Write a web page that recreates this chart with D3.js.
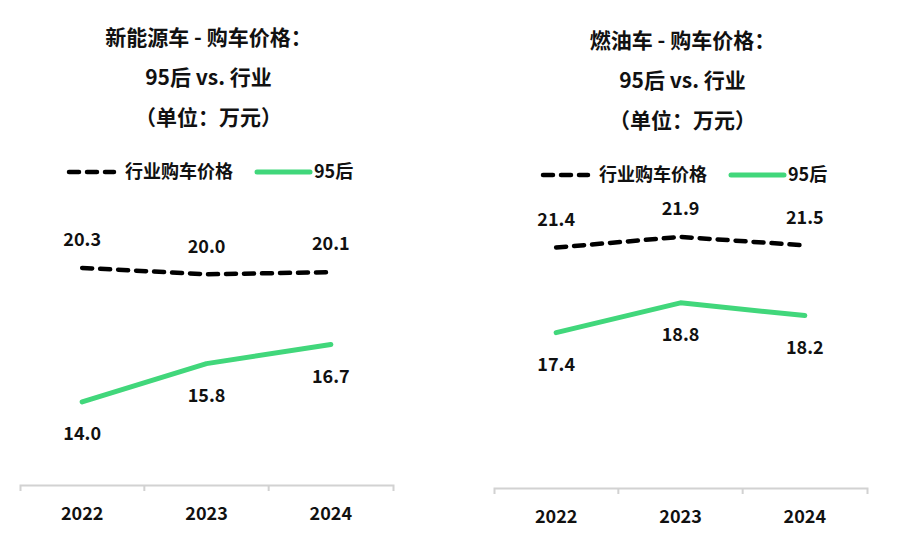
<!DOCTYPE html>
<html><head><meta charset="utf-8">
<script src="https://cdn.jsdelivr.net/npm/d3@7/dist/d3.min.js"></script>
<style>
html,body{margin:0;padding:0;background:#fff;}
text{font-family:"Noto Sans CJK SC","Noto Sans",sans-serif;font-weight:700;fill:#111;}
</style></head>
<body><svg id="c" width="918" height="538"></svg>
<script>
const years = ["2022","2023","2024"];
const nevIndustry = [20.3, 20.0, 20.1];
const nev95 = [14.0, 15.8, 16.7];
const iceIndustry = [21.4, 21.9, 21.5];
const ice95 = [17.4, 18.8, 18.2];
const titlesNev = ["新能源车 - 购车价格：", "95后 vs. 行业", "（单位：万元）"];
const titlesIce = ["燃油车 - 购车价格：", "95后 vs. 行业", "（单位：万元）"];
const legendLabels = ["行业购车价格", "95后"];

const GREEN = "#41d77b";
const svg = d3.select("#c");

function panel(cfg){
  const g = svg.append("g").attr("transform", `translate(${cfg.dx},${cfg.dy})`);
  const x = d3.scaleBand().domain(years).range([cfg.x0, cfg.x0 + 373]).padding(0);
  const y = d3.scaleLinear().domain([10, 25]).range([487, 487 - 15*21.27]);
  const cx = d => x(d) + x.bandwidth()/2;
  const axisY = 485;
  const midX = (cfg.x0 + cfg.x0 + 373)/2 + 2;

  // titles
  g.selectAll("text.title").data(cfg.titles).join("text")
    .attr("class","title")
    .attr("x", midX).attr("y", (d,i) => 38 + i*40)
    .attr("dy","0.35em").attr("text-anchor","middle")
    .style("font-size","21px").text(d => d);

  // legend
  const ly = 172;
  const lx = cfg.x0 + 47;
  g.append("line").attr("x1", lx + 2).attr("x2", lx + 47).attr("y1", ly).attr("y2", ly)
    .attr("stroke","#000").attr("stroke-width",4.5).attr("stroke-linecap","round")
    .attr("stroke-dasharray","10,8");
  g.append("text").attr("x", lx + 58).attr("y", ly).attr("dy","0.35em")
    .style("font-size","18px").text(legendLabels[0]);
  g.append("line").attr("x1", lx + 190).attr("x2", lx + 243).attr("y1", ly).attr("y2", ly)
    .attr("stroke",GREEN).attr("stroke-width",5).attr("stroke-linecap","round");
  g.append("text").attr("x", lx + 247).attr("y", ly).attr("dy","0.35em")
    .style("font-size","18px").text(legendLabels[1]);

  // axis
  const axis = d3.axisBottom(x).tickSize(0).tickSizeOuter(6).tickPadding(22);
  const ag = g.append("g").attr("transform", `translate(0,${axisY})`).call(axis);
  ag.select(".domain").attr("stroke","#d2d2d2").attr("stroke-width",2);
  ag.selectAll(".tick text").style("font-size","18px").style("font-family",'"Noto Sans CJK SC","Noto Sans",sans-serif').style("font-weight","700").attr("fill","#111");
  g.selectAll("line.bt").data(years.slice(1)).join("line").attr("class","bt")
    .attr("x1", d => x(d)).attr("x2", d => x(d)).attr("y1", axisY).attr("y2", axisY + 6)
    .attr("stroke","#d2d2d2").attr("stroke-width",2);

  const line = d3.line().x((d,i) => cx(years[i])).y(d => y(d));
  g.append("path").datum(cfg.ind).attr("d", line).attr("fill","none")
    .attr("stroke","#000").attr("stroke-width",4.5).attr("stroke-linecap","round")
    .attr("stroke-dasharray","10,8");
  g.append("path").datum(cfg.p95).attr("d", line).attr("fill","none")
    .attr("stroke",GREEN).attr("stroke-width",5).attr("stroke-linecap","round")
    .attr("stroke-linejoin","round");

  g.selectAll("text.li").data(cfg.ind).join("text").attr("class","li")
    .attr("x", (d,i) => cx(years[i])).attr("y", d => y(d) - 28).attr("dy","0.35em")
    .attr("text-anchor","middle").style("font-size","18px").text(d => d.toFixed(1));
  g.selectAll("text.lg").data(cfg.p95).join("text").attr("class","lg")
    .attr("x", (d,i) => cx(years[i])).attr("y", d => y(d) + 32).attr("dy","0.35em")
    .attr("text-anchor","middle").style("font-size","18px").text(d => d.toFixed(1));
}

panel({dx:0, dy:0, x0:20, titles:titlesNev, ind:nevIndustry, p95:nev95});
panel({dx:0, dy:3, x0:494, titles:titlesIce, ind:iceIndustry, p95:ice95});
</script></body></html>
